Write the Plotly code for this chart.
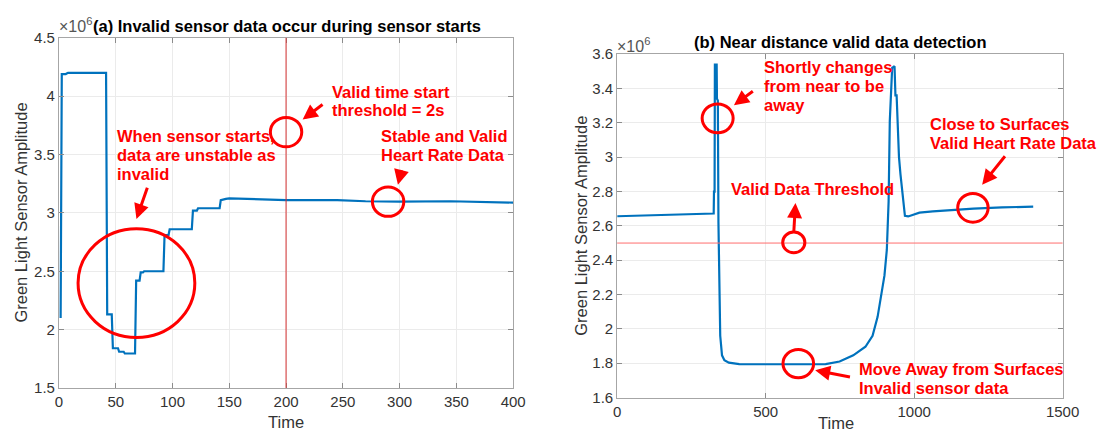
import plotly.graph_objects as go

# ---------------- data (amplitude in units of 1e6) ----------------
time_a = [1.5, 2.5, 6, 8, 41.5, 42.5, 46.5, 47.5, 52, 53, 57, 58, 67, 68, 71, 72, 74, 75,
          92, 93, 96.5, 97.5, 117, 118, 121.5, 122.5, 141.5, 142.5, 147, 150, 200, 245,
          270, 300, 345, 360, 400]
amp_a = [2.10, 4.19, 4.19, 4.20, 4.20, 2.13, 2.13, 1.84, 1.84, 1.81, 1.81, 1.795, 1.795,
         2.42, 2.42, 2.49, 2.49, 2.50, 2.50, 2.81, 2.81, 2.86, 2.86, 3.02, 3.02, 3.04,
         3.04, 3.11, 3.12, 3.125, 3.11, 3.11, 3.10, 3.097, 3.10, 3.095, 3.088]

time_b = [0, 100, 200, 320, 325, 326, 328, 329, 335, 336, 339, 341, 344, 347, 353, 361,
          376, 411, 504, 702, 749, 795, 836, 860, 877, 888, 900, 908, 914, 918, 922,
          926, 934, 937, 941, 944, 949, 954, 959, 964, 969, 980, 1018, 1063, 1107, 1173,
          1200, 1296, 1401]
amp_b = [2.656, 2.662, 2.667, 2.672, 2.672, 2.80, 2.80, 3.54, 3.54, 3.34, 3.33, 2.62, 2.18,
         1.96, 1.846, 1.818, 1.803, 1.795, 1.794, 1.795, 1.81, 1.846, 1.896, 1.96, 2.07,
         2.18, 2.31, 2.46, 2.74, 3.21, 3.40, 3.52, 3.53, 3.36, 3.36, 3.17, 3.00, 2.90,
         2.817, 2.705, 2.659, 2.655, 2.677, 2.684, 2.69, 2.696, 2.70, 2.708, 2.712]

xticks_a = [0, 50, 100, 150, 200, 250, 300, 350, 400]
yticks_a = [1.5, 2, 2.5, 3, 3.5, 4, 4.5]
yticklabels_a = ["1.5", "2", "2.5", "3", "3.5", "4", "4.5"]
xticks_b = [0, 500, 1000, 1500]
yticks_b = [1.6, 1.8, 2.0, 2.2, 2.4, 2.6, 2.8, 3.0, 3.2, 3.4, 3.6]
yticklabels_b = ["1.6", "1.8", "2", "2.2", "2.4", "2.6", "2.8", "3", "3.2", "3.4", "3.6"]

threshold_time = 200
threshold_amp = 2.5

W, H = 1111, 445
RED = "rgb(255,0,0)"
BLUE = "#0072BD"
FONT = "Liberation Sans, Arial, Helvetica, sans-serif"


def px(x):
    return x / W


def py(y):
    return 1 - y / H


fig = go.Figure()
fig.add_trace(go.Scatter(x=time_a, y=amp_a, mode="lines", line=dict(color=BLUE, width=2.2),
                         xaxis="x", yaxis="y", showlegend=False, hoverinfo="skip"))
fig.add_trace(go.Scatter(x=time_b, y=amp_b, mode="lines", line=dict(color=BLUE, width=2.2),
                         xaxis="x2", yaxis="y2", showlegend=False, hoverinfo="skip"))

axis_common = dict(showline=True, mirror="ticks", linecolor="#a6a6a6", linewidth=1,
                   ticks="inside", ticklen=5, tickcolor="#8c8c8c", showgrid=True,
                   gridcolor="#ebebeb", gridwidth=1, zeroline=False,
                   tickfont=dict(family=FONT, size=15, color="#333333"), fixedrange=True)

fig.update_layout(
    width=W, height=H,
    margin=dict(l=0, r=0, t=0, b=0),
    paper_bgcolor="white", plot_bgcolor="white",
    xaxis=dict(domain=[px(56), px(519)], range=[0, 400], tickvals=xticks_a,
               anchor="y", **axis_common),
    yaxis=dict(domain=[py(394), py(30)], range=[1.5, 4.5], tickvals=yticks_a,
               ticktext=yticklabels_a, anchor="x", **axis_common),
    xaxis2=dict(domain=[px(625), px(1079)], range=[0, 1500], tickvals=xticks_b,
                anchor="y2", **axis_common),
    yaxis2=dict(domain=[py(404), py(47)], range=[1.6, 3.6], tickvals=yticks_b,
                ticktext=yticklabels_b, anchor="x2", **axis_common),
)

shapes = [
    dict(type="line", xref="x", yref="y domain", x0=threshold_time, x1=threshold_time,
         y0=0, y1=1, line=dict(color="rgb(215,50,50)", width=1)),
    dict(type="line", xref="x2 domain", yref="y2", x0=0, x1=1, y0=threshold_amp,
         y1=threshold_amp, line=dict(color="rgb(255,110,110)", width=1)),
]

# circles: (centre x px, centre y px, radius px-x, radius px-y)
circles = [
    (135, 285, 59.5, 56.5),
    (287.5, 128, 16, 15.3),
    (391.5, 200.3, 16, 15.3),
    (727.4, 113.7, 15.8, 15),
    (805, 242.7, 11.3, 10.8),
    (809.6, 368.7, 15.6, 14.7),
    (987.6, 206.7, 15.5, 15),
]
for cx, cy, rx, ry in circles:
    shapes.append(dict(type="circle", xref="paper", yref="paper",
                       x0=px(cx - rx), x1=px(cx + rx), y0=py(cy + ry), y1=py(cy - ry),
                       line=dict(color=RED, width=3)))
fig.update_layout(shapes=shapes)

ann = []


def text(x, y, s, size=16.5, color=RED, bold=True, anchor="left"):
    ann.append(dict(x=px(x), y=py(y), xref="paper", yref="paper", text=f"<b>{s}</b>" if bold else s,
                    showarrow=False, xanchor=anchor, yanchor="middle",
                    font=dict(family=FONT, size=size, color=color)))


def arrow(x0, y0, x1, y1):
    ann.append(dict(x=px(x1), y=py(y1), xref="paper", yref="paper", text="",
                    showarrow=True, ax=x0 - x1, ay=y0 - y1, axref="pixel", ayref="pixel",
                    arrowhead=2, arrowsize=1, arrowwidth=3, arrowcolor=RED, standoff=0))


# left panel text
text(113.5, 132, "When sensor starts,")
text(113.5, 152, "data are unstable as")
text(113.5, 172, "invalid")
text(332, 86, "Valid time start")
text(332, 105.5, "threshold = 2s")
text(382, 132, "Stable and Valid")
text(382, 152, "Heart Rate Data")
arrow(146.4, 185.7, 135, 218.3)
arrow(325.8, 98.7, 304.4, 115)
arrow(405.4, 166.7, 401.5, 182.7)

# right panel text
text(773, 60, "Shortly changes")
text(773, 80, "from near to be")
text(773, 99.5, "away")
text(739, 187.5, "Valid Data Threshold")
text(941.5, 119.5, "Close to Surfaces")
text(941.5, 139.5, "Valid Heart Rate Data")
text(869.5, 374, "Move Away from Surfaces")
text(869.5, 394, "Invalid sensor data")
arrow(764.4, 85, 744, 100)
arrow(805, 231.7, 806.7, 201.7)
arrow(863.1, 382.7, 826.8, 375.7)
arrow(1021, 152.7, 997, 182.7)

# titles
text(288, 17.5, "(a) Invalid sensor data occur during sensor starts", size=16.5,
     color="black", anchor="center")
text(852.5, 34.5, "(b) Near distance valid data detection", size=16.5, color="black",
     anchor="center")
text(54, 17, "×10<sup>6</sup>", size=16, color="#555555", bold=False)
text(623, 37.5, "×10<sup>6</sup>", size=16, color="#555555", bold=False)

# axis titles
text(287.5, 429, "Time", size=16.5, color="#333333", bold=False, anchor="center")
text(848, 430, "Time", size=16.5, color="#333333", bold=False, anchor="center")
for xx, yy in [(17, 212), (588, 225.5)]:
    ann.append(dict(x=px(xx), y=py(yy), xref="paper", yref="paper",
                    text="Green Light Sensor Amplitude", showarrow=False, textangle=-90,
                    xanchor="center", yanchor="middle",
                    font=dict(family=FONT, size=16.5, color="#333333")))

fig.update_layout(annotations=ann)
fig.write_html("out.html")
